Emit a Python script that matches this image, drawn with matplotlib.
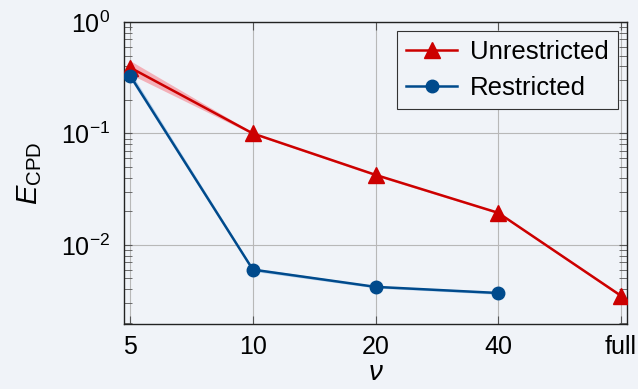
import matplotlib
matplotlib.use("Agg")
import matplotlib.pyplot as plt
import numpy as np

plt.rcParams['font.family'] = ['Liberation Sans', 'DejaVu Sans']
plt.rcParams['mathtext.fontset'] = 'custom'
plt.rcParams['mathtext.rm'] = 'Liberation Sans'
plt.rcParams['mathtext.it'] = 'Liberation Sans:italic'
plt.rcParams['mathtext.bf'] = 'Liberation Sans:bold'

categories = ["5", "10", "20", "40", "full"]
unrestricted = [0.39, 0.100, 0.0425, 0.0194, 0.0035]
unrestricted_lo = [0.34, 0.098, 0.0415, 0.0190, 0.0034]
unrestricted_hi = [0.45, 0.102, 0.0435, 0.0198, 0.0036]
restricted = [0.33, 0.0060, 0.0042, 0.0037]
restricted_lo = [0.31, 0.0058, 0.0041, 0.0036]
restricted_hi = [0.36, 0.0062, 0.0043, 0.0038]

red = "#cc0000"
blue = "#004a8c"
bg = "#f0f3f8"

fig = plt.figure(figsize=(6.38, 3.89), dpi=100, facecolor=bg)
ax = fig.add_axes([124/638, 1 - 324/389, (627-124)/638, (324-22)/389])
ax.set_facecolor(bg)

xu = np.arange(len(unrestricted))
xr = np.arange(len(restricted))

ax.fill_between(xu, unrestricted_lo, unrestricted_hi, color="#f4a0a8", alpha=0.8, lw=0, zorder=2)
ax.fill_between(xr, restricted_lo, restricted_hi, color="#a8c8e8", alpha=0.8, lw=0, zorder=2)

ax.plot(xu, unrestricted, color=red, lw=1.8, marker="^", ms=11, label="Unrestricted", zorder=4)
ax.plot(xr, restricted, color=blue, lw=1.8, marker="o", ms=9, label="Restricted", zorder=4)

ax.set_yscale("log")
ax.set_ylim(10**-2.71, 1.0)
ax.set_xlim(-0.05, 4.05)
ax.set_xticks(xu)
ax.set_xticklabels(categories)

ax.grid(True, which="major", color="#b8b8b8", lw=0.8)
ax.set_axisbelow(True)
ax.tick_params(which="both", direction="in", top=True, right=True, labelsize=18, color="#555555")
ax.tick_params(which="major", length=6)
ax.tick_params(which="minor", length=6)
ax.tick_params(axis="x", pad=8)
ax.tick_params(axis="y", pad=10)
for s in ax.spines.values():
    s.set_color("#222222")
    s.set_linewidth(1.0)

ax.set_xlabel(r"$\nu$", fontsize=20, labelpad=1)
ax.set_ylabel(r"$E_{\mathrm{CPD}}$", fontsize=21, labelpad=12)

leg = ax.legend(loc="upper right", fontsize=18.5, frameon=True, fancybox=False,
                edgecolor="#333333", facecolor=bg, framealpha=1.0,
                borderaxespad=0.35, handlelength=2.0, borderpad=0.35, labelspacing=0.45,
                handletextpad=0.5)
leg.get_frame().set_linewidth(0.8)

fig.savefig("out.png", dpi=100, facecolor=bg)
